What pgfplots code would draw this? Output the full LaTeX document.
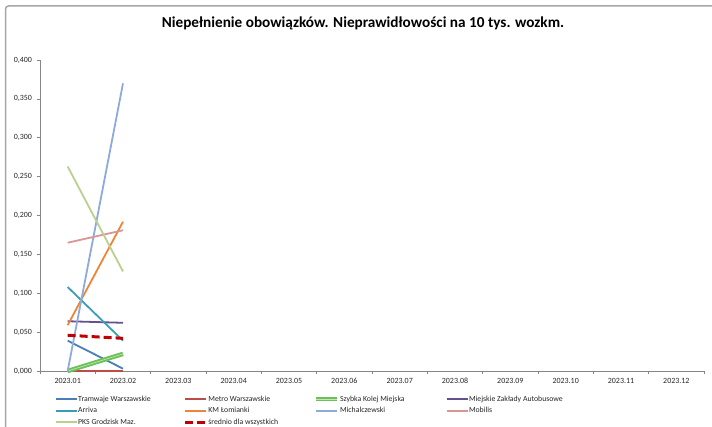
\documentclass[border=0pt]{standalone}
\usepackage{pgfplots}
\pgfplotsset{compat=1.18}
\usepackage{fontspec}
\setmainfont{Carlito}
\definecolor{cTW}{HTML}{4A7EBB}
\definecolor{cMW}{HTML}{BE4B48}
\definecolor{cSKM}{HTML}{6CC05A}
\definecolor{cSKMin}{HTML}{C4EAB4}
\definecolor{cMZA}{HTML}{65508F}
\definecolor{cARR}{HTML}{3A9DB8}
\definecolor{cKM}{HTML}{EE8435}
\definecolor{cMIC}{HTML}{8EAADB}
\definecolor{cMOB}{HTML}{D99694}
\definecolor{cPKS}{HTML}{B9D090}
\definecolor{cAVG}{HTML}{C00000}
\definecolor{axgray}{HTML}{868686}
\begin{document}
\begin{tikzpicture}
\useasboundingbox (0bp,0bp) rectangle (712bp,427bp);
\draw[color=black!35, line width=1.5bp, rounded corners=3bp] (5.5bp,0bp) -- (5.5bp,421bp) -- (712bp,421bp);
\node[font=\bfseries\fontsize{15.3}{18}\selectfont, anchor=center] at (363bp,404bp) {Niepełnienie obowiązków. Nieprawidłowości na 10 tys. wozkm.};
\begin{axis}[
  at={(40bp,56bp)}, anchor=south west,
  scale only axis, width=664bp, height=311bp,
  xmin=0.5, xmax=12.5, ymin=0, ymax=0.4,
  axis x line=bottom, axis y line=left,
  axis line style={axgray, line width=0.8bp, -},
  xtick={0.5,1.5,...,12.5},
  x tick label as interval,
  xticklabels={2023.01,2023.02,2023.03,2023.04,2023.05,2023.06,2023.07,2023.08,2023.09,2023.10,2023.11,2023.12},
  ytick={0,0.05,...,0.4},
  tick align=outside,
  major tick length=3.5bp,
  tick style={axgray, line width=0.6bp},
  /pgf/number format/assume math mode=true,
  yticklabel style={/pgf/number format/fixed, /pgf/number format/fixed zerofill, /pgf/number format/precision=3, /pgf/number format/use comma, xshift=-1bp},
  tick label style={font=\fontsize{8}{9}\selectfont, text=black!85},
  legend columns=4,
  legend cell align=left,
  legend style={at={(axis description cs:0.022,-0.077)}, anchor=north west, draw=none, fill=none,
    font=\fontsize{7.8}{8}\selectfont, text=black!85,
    /tikz/every even column/.append style={column sep=0bp},
    row sep=3.4bp, inner sep=0bp, nodes={inner sep=0.6bp}},
  legend image code/.code={\draw[#1] (0bp,0bp) -- (21bp,0bp);},
  every axis plot/.append style={line width=1.8bp},
  clip=false,
]
\addplot[cTW] coordinates {(1,0.039) (2,0.003)};
\addlegendentry{\makebox[105bp][l]{Tramwaje Warszawskie}}
\addplot[cMW] coordinates {(1,0.0) (2,0.0)};
\addlegendentry{\makebox[105bp][l]{Metro Warszawskie}}
\addplot[cSKM, line width=1.9bp, double=cSKMin, double distance=0.6bp] coordinates {(1,0.0) (2,0.022)};
\addlegendentry{\makebox[105bp][l]{Szybka Kolej Miejska}}
\addplot[cMZA] coordinates {(1,0.064) (2,0.062)};
\addlegendentry{\makebox[105bp][l]{Miejskie Zakłady Autobusowe}}
\addplot[cARR] coordinates {(1,0.108) (2,0.039)};
\addlegendentry{\makebox[105bp][l]{Arriva}}
\addplot[cKM] coordinates {(1,0.059) (2,0.192)};
\addlegendentry{\makebox[105bp][l]{KM Łomianki}}
\addplot[cMIC] coordinates {(1,0.0) (2,0.370)};
\addlegendentry{\makebox[105bp][l]{Michalczewski}}
\addplot[cMOB] coordinates {(1,0.165) (2,0.181)};
\addlegendentry{\makebox[105bp][l]{Mobilis}}
\addplot[cPKS] coordinates {(1,0.263) (2,0.128)};
\addlegendentry{\makebox[105bp][l]{PKS Grodzisk Maz.}}
\addplot[cAVG, line width=3bp, dash pattern=on 8bp off 4bp] coordinates {(1,0.046) (2,0.042)};
\addlegendentry{\makebox[105bp][l]{średnio dla wszystkich}}
\end{axis}
\end{tikzpicture}
\end{document}
